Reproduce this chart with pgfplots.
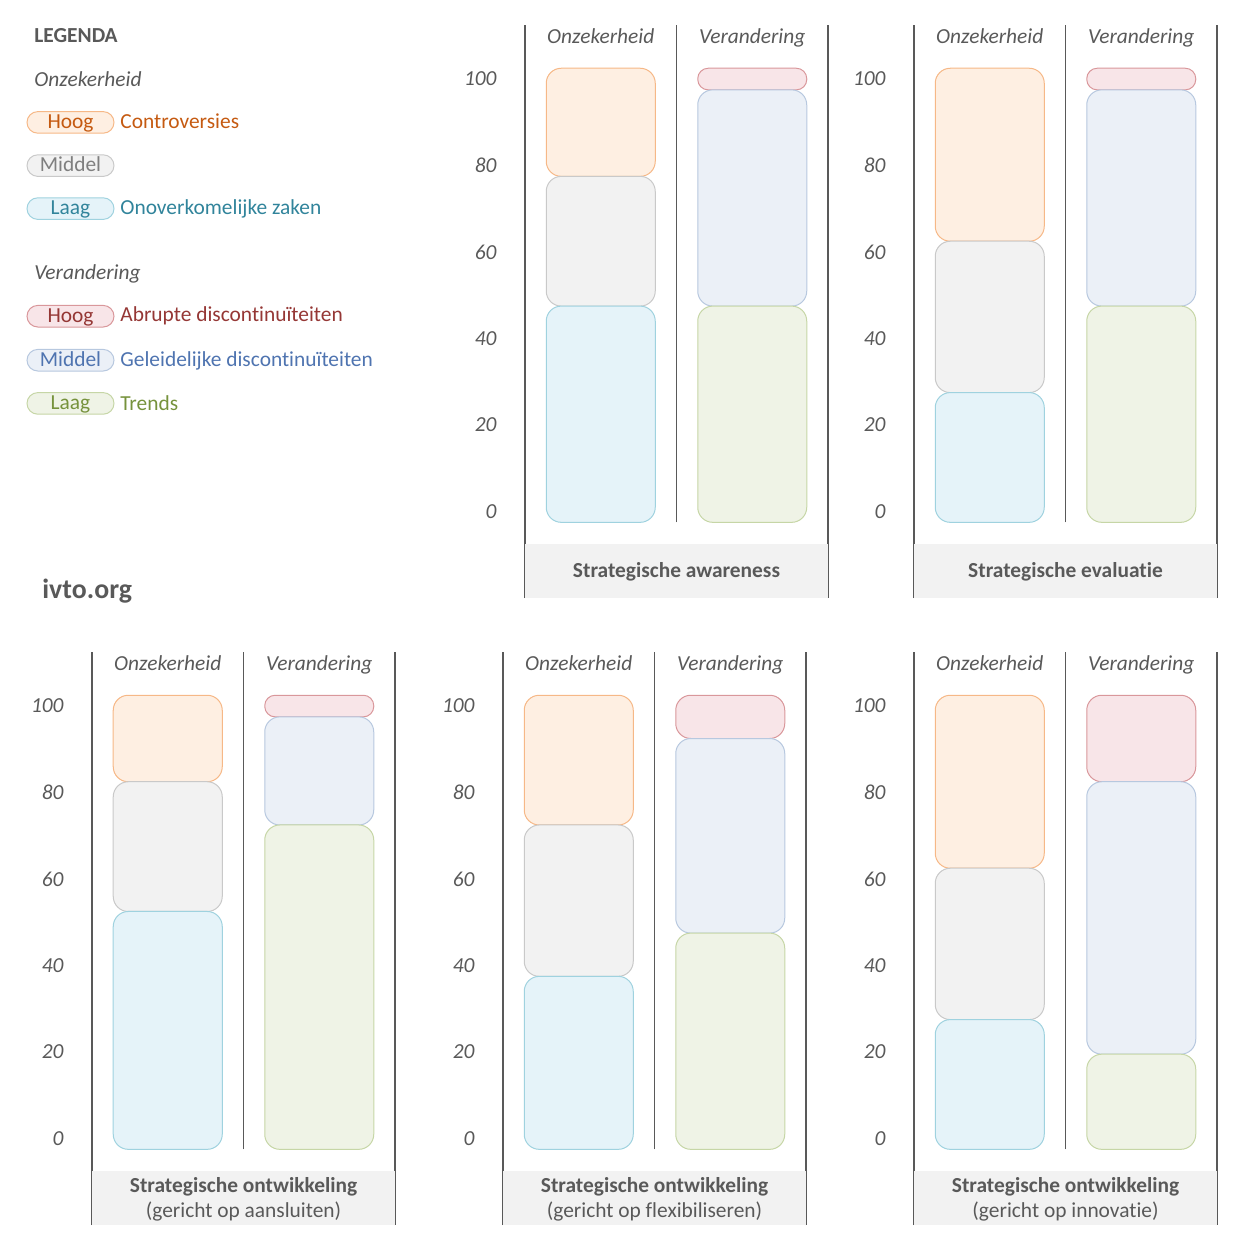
\documentclass[border=0pt]{standalone}
\usepackage{fontspec}
\setmainfont{Carlito}[Ligatures=NoCommon]
\usepackage{pgfplots}
\pgfplotsset{compat=1.18}
\definecolor{txt}{HTML}{595959}
\definecolor{band}{HTML}{F2F2F2}
\definecolor{ohF}{HTML}{FEEFE2}\definecolor{ohD}{HTML}{F6B887}\definecolor{ohT}{HTML}{C55A11}
\definecolor{omF}{HTML}{F2F2F2}\definecolor{omD}{HTML}{C9C9C9}\definecolor{omT}{HTML}{7F7F7F}
\definecolor{olF}{HTML}{E5F3F9}\definecolor{olD}{HTML}{9FD2DF}\definecolor{olT}{HTML}{31849B}
\definecolor{vhF}{HTML}{F8E5E8}\definecolor{vhD}{HTML}{D9979B}\definecolor{vhT}{HTML}{953735}
\definecolor{vmF}{HTML}{EBF0F7}\definecolor{vmD}{HTML}{B7C8DF}\definecolor{vmT}{HTML}{4F74B0}
\definecolor{vlF}{HTML}{EFF3E6}\definecolor{vlD}{HTML}{C6D6A6}\definecolor{vlT}{HTML}{76923C}
\newcommand\fs{\fontsize{10.7bp}{12.8bp}\selectfont}
\tikzset{
 fr/.style={draw=txt, line width=0.7bp},
 hdr/.style={font=\fs\itshape, text=txt, anchor=base, inner sep=0},
 ttlA/.style={font=\fs\bfseries, text=txt, anchor=base, inner sep=0},
 subA/.style={font=\fs, text=txt, anchor=base, inner sep=0},
 pill/.style={draw=#1D, fill=#1F, text=#1T, rounded corners=5.4bp, minimum width=43.5bp,
   minimum height=10.8bp, inner sep=0, line width=0.5bp, text height=6.8bp, text depth=1.0bp,
   font=\fs},
 lbl/.style={anchor=base west, inner sep=0, font=\fs},
 seg/.style={fill=#1F, draw=#1D, line width=0.5bp, rounded corners=7.5bp},
 segs/.style={fill=#1F, draw=#1D, line width=0.5bp, rounded corners=5.2bp},
 base/.style={draw=none, fill=none},
}
\pgfplotsset{
 panel/.style={
   scale only axis, width=151.5bp, height=286.5bp, anchor=north west,
   xmin=-0.5, xmax=1.5, ymin=-20, ymax=112.5,
   ybar stacked, stack negative=on previous, bar width=54.5bp,
   axis line style={draw=none},
   xtick=\empty, ytick={0,20,...,100},
   major tick length=0pt,
   yticklabel style={font=\fs\itshape, text=txt, xshift=-10.7bp},
   /pgf/number format/assume math mode=true,
   clip=false,
 },
 overlay/.style={panel, ytick=\empty},
}
\newcommand\decor{%
 \fill[band] (axis cs:-0.5,-20) rectangle (axis cs:1.5,-7.6);
 \draw[fr] (axis cs:-0.5,-20) -- (axis cs:-0.5,112.5);
 \draw[fr] (axis cs:1.5,-20) -- (axis cs:1.5,112.5);
 \draw[fr] (axis cs:0.5,-2.5) -- (axis cs:0.5,112.5);
 \node[hdr] at (axis cs:0,108.3) {Onzekerheid};
 \node[hdr] at (axis cs:1,108.3) {Verandering};
}
\begin{document}
\begin{tikzpicture}
\useasboundingbox (0,0) rectangle (619.5bp,-624bp);
% Legend
\node[anchor=base west, inner sep=0, font=\fs\bfseries, text=txt] at (17bp,-21.3bp) {LEGENDA};
\node[anchor=base west, inner sep=0, font=\fs\itshape, text=txt] at (17bp,-43bp) {Onzekerheid};
\node[pill=oh] at (35.25bp,-61.2bp) {Hoog};
\node[lbl, text=ohT] at (60bp,-64bp) {Controversies};
\node[pill=om] at (35.25bp,-82.8bp) {Middel};
\node[pill=ol] at (35.25bp,-104.3bp) {Laag};
\node[lbl, text=olT] at (60bp,-107.1bp) {Onoverkomelijke zaken};
\node[anchor=base west, inner sep=0, font=\fs\itshape, text=txt] at (17bp,-139.6bp) {Verandering};
\node[pill=vh] at (35.25bp,-158.1bp) {Hoog};
\node[lbl, text=vhT] at (60bp,-160.9bp) {Abrupte discontinuïteiten};
\node[pill=vm] at (35.25bp,-180.1bp) {Middel};
\node[lbl, text=vmT] at (60bp,-183.3bp) {Geleidelijke discontinuïteiten};
\node[pill=vl] at (35.25bp,-201.7bp) {Laag};
\node[lbl, text=vlT] at (60bp,-205bp) {Trends};
\node[anchor=base west, inner sep=0, font=\fontsize{13.9bp}{16bp}\selectfont\bfseries, text=txt] at (21bp,-299bp) {ivto.org};

% Panel A
\begin{axis}[panel, at={(262.5bp,-12.5bp)}]
\decor
\addplot[base] coordinates {(0,-2.5)};
\addplot[seg=ol] coordinates {(0,50)};
\addplot[seg=om] coordinates {(0,30)};
\addplot[seg=oh] coordinates {(0,25)};
\end{axis}
\begin{axis}[overlay, at={(262.5bp,-12.5bp)}]
\node[ttlA] at (axis cs:0.5,-15.3) {Strategische awareness};
\addplot[base] coordinates {(1,-2.5)};
\addplot[seg=vl] coordinates {(1,50)};
\addplot[seg=vm] coordinates {(1,50)};
\addplot[segs=vh] coordinates {(1,5)};
\end{axis}

% Panel B
\begin{axis}[panel, at={(457bp,-12.5bp)}]
\decor
\addplot[base] coordinates {(0,-2.5)};
\addplot[seg=ol] coordinates {(0,30)};
\addplot[seg=om] coordinates {(0,35)};
\addplot[seg=oh] coordinates {(0,40)};
\end{axis}
\begin{axis}[overlay, at={(457bp,-12.5bp)}]
\node[ttlA] at (axis cs:0.5,-15.3) {Strategische evaluatie};
\addplot[base] coordinates {(1,-2.5)};
\addplot[seg=vl] coordinates {(1,50)};
\addplot[seg=vm] coordinates {(1,50)};
\addplot[segs=vh] coordinates {(1,5)};
\end{axis}

% Panel C
\begin{axis}[panel, at={(46bp,-326bp)}]
\decor
\addplot[base] coordinates {(0,-2.5)};
\addplot[seg=ol] coordinates {(0,55)};
\addplot[seg=om] coordinates {(0,30)};
\addplot[seg=oh] coordinates {(0,20)};
\end{axis}
\begin{axis}[overlay, at={(46bp,-326bp)}]
\node[ttlA] at (axis cs:0.5,-12.4) {Strategische ontwikkeling};
\node[subA] at (axis cs:0.5,-18.3) {(gericht op aansluiten)};
\addplot[base] coordinates {(1,-2.5)};
\addplot[seg=vl] coordinates {(1,75)};
\addplot[seg=vm] coordinates {(1,25)};
\addplot[segs=vh] coordinates {(1,5)};
\end{axis}

% Panel D
\begin{axis}[panel, at={(251.5bp,-326bp)}]
\decor
\addplot[base] coordinates {(0,-2.5)};
\addplot[seg=ol] coordinates {(0,40)};
\addplot[seg=om] coordinates {(0,35)};
\addplot[seg=oh] coordinates {(0,30)};
\end{axis}
\begin{axis}[overlay, at={(251.5bp,-326bp)}]
\node[ttlA] at (axis cs:0.5,-12.4) {Strategische ontwikkeling};
\node[subA] at (axis cs:0.5,-18.3) {(gericht op flexibiliseren)};
\addplot[base] coordinates {(1,-2.5)};
\addplot[seg=vl] coordinates {(1,50)};
\addplot[seg=vm] coordinates {(1,45)};
\addplot[seg=vh] coordinates {(1,10)};
\end{axis}

% Panel E
\begin{axis}[panel, at={(457bp,-326bp)}]
\decor
\addplot[base] coordinates {(0,-2.5)};
\addplot[seg=ol] coordinates {(0,30)};
\addplot[seg=om] coordinates {(0,35)};
\addplot[seg=oh] coordinates {(0,40)};
\end{axis}
\begin{axis}[overlay, at={(457bp,-326bp)}]
\node[ttlA] at (axis cs:0.5,-12.4) {Strategische ontwikkeling};
\node[subA] at (axis cs:0.5,-18.3) {(gericht op innovatie)};
\addplot[base] coordinates {(1,-2.5)};
\addplot[seg=vl] coordinates {(1,22)};
\addplot[seg=vm] coordinates {(1,63)};
\addplot[seg=vh] coordinates {(1,20)};
\end{axis}
\end{tikzpicture}
\end{document}
